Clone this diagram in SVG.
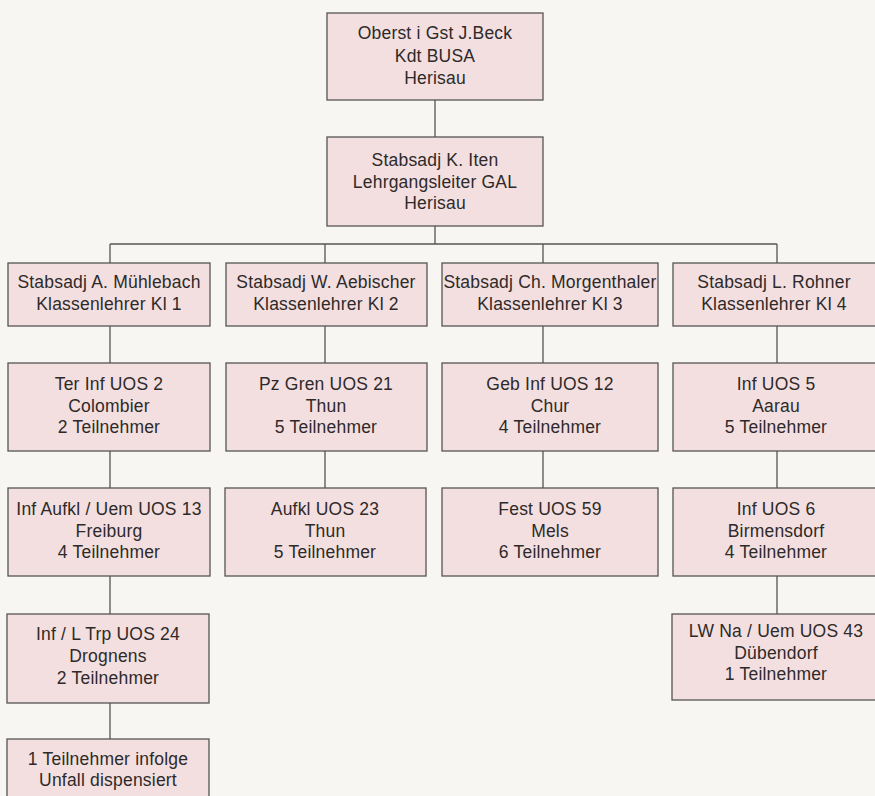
<svg xmlns="http://www.w3.org/2000/svg" width="875" height="796" viewBox="0 0 875 796">
<style>
.b{fill:#f3dfdf;stroke:#555;stroke-width:1.3}
.t{font-family:"Liberation Sans",Arial,sans-serif;font-size:17.5px;letter-spacing:0.2px;fill:#2e2a2a;text-anchor:middle}
.c{stroke:#555;stroke-width:1.3;fill:none}
</style>
<rect width="875" height="796" fill="#f8f6f3"/>
<g id="connectors">
<path class="c" d="M435 100V137M435 226V244M110 244H777M110 244V263M325 244V263M543 244V263M777 244V263"/>
<path class="c" d="M110 326V363M325 326V363M543 326V363M777 326V363"/>
<path class="c" d="M110 451V488M325 451V488M543 451V488M777 451V488"/>
<path class="c" d="M110 576V614M777 576V614M110 703V739"/>
</g>
<g id="n-beck"><rect class="b" x="327" y="13" width="216" height="87"/>
<text class="t"><tspan x="435" y="39">Oberst i Gst J.Beck</tspan><tspan x="435" y="62">Kdt BUSA</tspan><tspan x="435" y="84">Herisau</tspan></text></g>
<g id="n-iten"><rect class="b" x="327" y="137" width="216" height="89"/>
<text class="t"><tspan x="435" y="166">Stabsadj K. Iten</tspan><tspan x="435" y="188">Lehrgangsleiter GAL</tspan><tspan x="435" y="209">Herisau</tspan></text></g>
<g id="n-kl1"><rect class="b" x="8" y="263" width="202" height="63"/>
<text class="t"><tspan x="109" y="288">Stabsadj A. Mühlebach</tspan><tspan x="109" y="310">Klassenlehrer Kl 1</tspan></text></g>
<g id="n-kl2"><rect class="b" x="226" y="263" width="201" height="63"/>
<text class="t"><tspan x="326" y="288">Stabsadj W. Aebischer</tspan><tspan x="326" y="310">Klassenlehrer Kl 2</tspan></text></g>
<g id="n-kl3"><rect class="b" x="442" y="263" width="216" height="63"/>
<text class="t"><tspan x="550" y="288">Stabsadj Ch. Morgenthaler</tspan><tspan x="550" y="310">Klassenlehrer Kl 3</tspan></text></g>
<g id="n-kl4"><rect class="b" x="673" y="263" width="205" height="63"/>
<text class="t"><tspan x="774" y="288">Stabsadj L. Rohner</tspan><tspan x="774" y="310">Klassenlehrer Kl 4</tspan></text></g>
<g id="n-uos2"><rect class="b" x="8" y="363" width="202" height="88"/>
<text class="t"><tspan x="109" y="390">Ter Inf UOS 2</tspan><tspan x="109" y="412">Colombier</tspan><tspan x="109" y="433">2 Teilnehmer</tspan></text></g>
<g id="n-uos21"><rect class="b" x="226" y="363" width="201" height="88"/>
<text class="t"><tspan x="326" y="390">Pz Gren UOS 21</tspan><tspan x="326" y="412">Thun</tspan><tspan x="326" y="433">5 Teilnehmer</tspan></text></g>
<g id="n-uos12"><rect class="b" x="442" y="363" width="216" height="88"/>
<text class="t"><tspan x="550" y="390">Geb Inf UOS 12</tspan><tspan x="550" y="412">Chur</tspan><tspan x="550" y="433">4 Teilnehmer</tspan></text></g>
<g id="n-uos5"><rect class="b" x="673" y="363" width="205" height="88"/>
<text class="t"><tspan x="776" y="390">Inf UOS 5</tspan><tspan x="776" y="412">Aarau</tspan><tspan x="776" y="433">5 Teilnehmer</tspan></text></g>
<g id="n-uos13"><rect class="b" x="8" y="488" width="202" height="88"/>
<text class="t"><tspan x="109" y="515">Inf Aufkl / Uem UOS 13</tspan><tspan x="109" y="537">Freiburg</tspan><tspan x="109" y="558">4 Teilnehmer</tspan></text></g>
<g id="n-uos23"><rect class="b" x="225" y="488" width="201" height="88"/>
<text class="t"><tspan x="325" y="515">Aufkl UOS 23</tspan><tspan x="325" y="537">Thun</tspan><tspan x="325" y="558">5 Teilnehmer</tspan></text></g>
<g id="n-uos59"><rect class="b" x="442" y="488" width="216" height="88"/>
<text class="t"><tspan x="550" y="515">Fest UOS 59</tspan><tspan x="550" y="537">Mels</tspan><tspan x="550" y="558">6 Teilnehmer</tspan></text></g>
<g id="n-uos6"><rect class="b" x="673" y="488" width="205" height="88"/>
<text class="t"><tspan x="776" y="515">Inf UOS 6</tspan><tspan x="776" y="537">Birmensdorf</tspan><tspan x="776" y="558">4 Teilnehmer</tspan></text></g>
<g id="n-uos24"><rect class="b" x="7" y="614" width="202" height="89"/>
<text class="t"><tspan x="108" y="640">Inf / L Trp UOS 24</tspan><tspan x="108" y="662">Drognens</tspan><tspan x="108" y="684">2 Teilnehmer</tspan></text></g>
<g id="n-uos43"><rect class="b" x="672" y="614" width="206" height="86"/>
<text class="t"><tspan x="776" y="637">LW Na / Uem UOS 43</tspan><tspan x="776" y="659">Dübendorf</tspan><tspan x="776" y="680">1 Teilnehmer</tspan></text></g>
<g id="n-disp"><rect class="b" x="7" y="739" width="202" height="62"/>
<text class="t"><tspan x="108" y="765">1 Teilnehmer infolge</tspan><tspan x="108" y="786">Unfall dispensiert</tspan></text></g>
</svg>
